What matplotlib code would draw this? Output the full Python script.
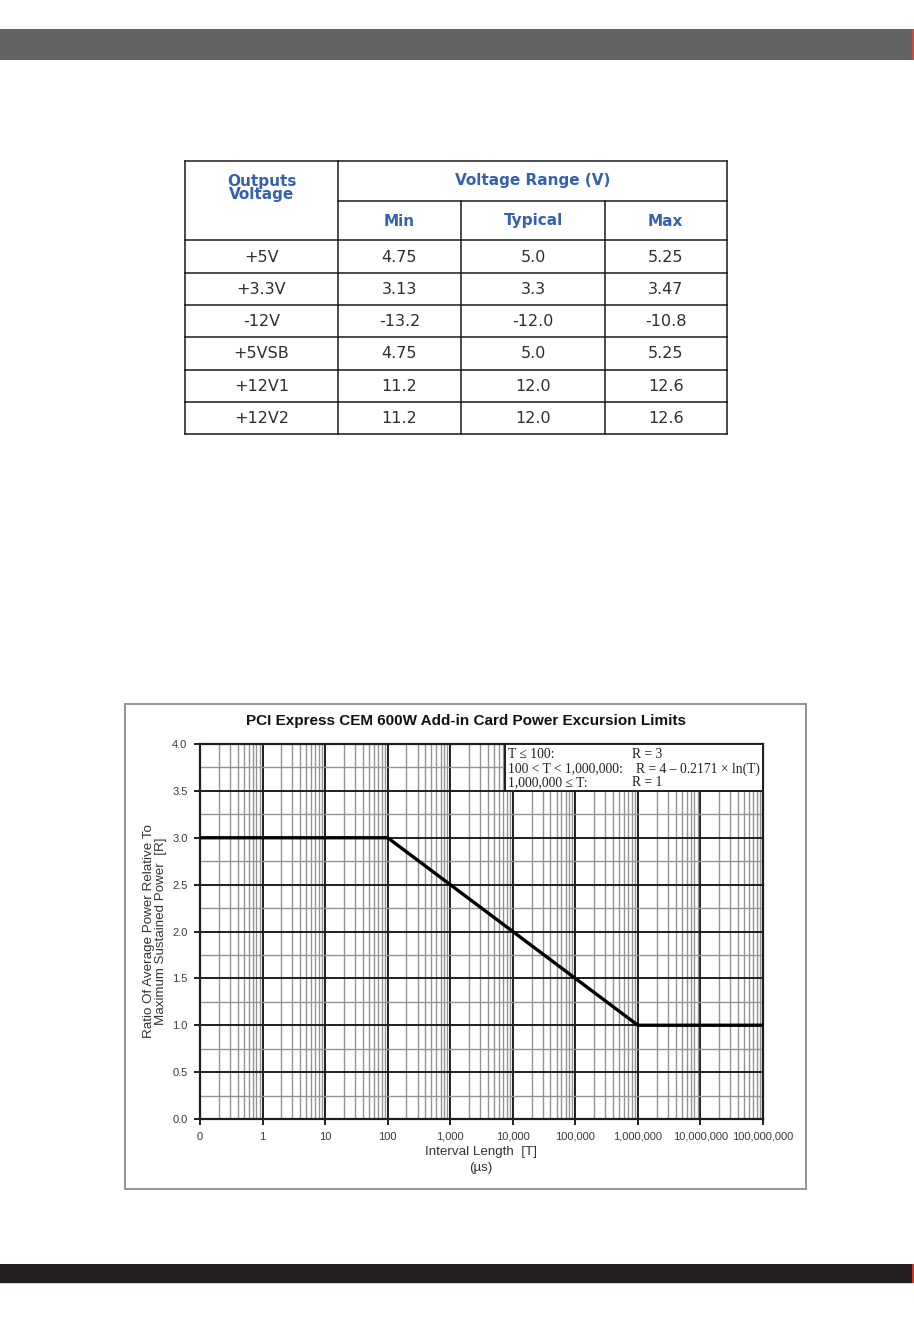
import matplotlib
matplotlib.use("Agg")
import matplotlib.pyplot as plt
from matplotlib.patches import Rectangle
from matplotlib.ticker import FixedLocator, NullFormatter
import numpy as np

# ---------------- data ----------------
table_outputs = ['+5V', '+3.3V', '-12V', '+5VSB', '+12V1', '+12V2']
table_min = ['4.75', '3.13', '-13.2', '4.75', '11.2', '11.2']
table_typ = ['5.0', '3.3', '-12.0', '5.0', '12.0', '12.0']
table_max = ['5.25', '3.47', '-10.8', '5.25', '12.6', '12.6']
table_sub_headers = ['Min', 'Typical', 'Max']

# interval length T (µs); axis start "0" is drawn at the 0.1 decade position
T_points = [0.1, 100, 1_000_000, 100_000_000]
R_points = [3.0, 3.0, 1.0, 1.0]
x_tick_values = [0.1, 1, 10, 100, 1e3, 1e4, 1e5, 1e6, 1e7, 1e8]
x_tick_labels = ['0', '1', '10', '100', '1,000', '10,000', '100,000',
                 '1,000,000', '10,000,000', '100,000,000']
y_tick_values = [0.0, 0.5, 1.0, 1.5, 2.0, 2.5, 3.0, 3.5, 4.0]
y_minor_values = [0.25, 0.75, 1.25, 1.75, 2.25, 2.75, 3.25, 3.75]
legend_left = ['T ≤ 100:', '100 < T < 1,000,000:', '1,000,000 ≤ T:']
legend_right = ['R = 3', 'R = 4 – 0.2171 × ln(T)', 'R = 1']

# ---------------- figure ----------------
W, H = 914, 1324
fig = plt.figure(figsize=(W / 100, H / 100), dpi=100)
fig.patch.set_facecolor('white')

bg = fig.add_axes([0, 0, 1, 1])
bg.set_xlim(0, W)
bg.set_ylim(H, 0)
bg.axis('off')

# header / footer bars
bg.add_patch(Rectangle((0, 29), 912, 31, facecolor='#646262', edgecolor='none'))
bg.add_patch(Rectangle((912, 29), 1.5, 31, facecolor='#c0504d', edgecolor='none'))
bg.add_patch(Rectangle((0, 1264), 912, 19, facecolor='#231f20', edgecolor='none'))
bg.add_patch(Rectangle((912, 1264), 1.5, 19, facecolor='#c0392b', edgecolor='none'))
bg.add_patch(Rectangle((0, 1283), 912, 1.2, facecolor='#d8d8d8', edgecolor='none'))

# ---------------- table ----------------
cols = [185, 338, 461, 605, 726.5]
rows = [161, 201, 240, 273, 305, 337, 370, 402, 434]
lc = '#1a1a1a'
lw = 1.1
bg.plot([cols[0], cols[-1]], [rows[0], rows[0]], color=lc, lw=lw)
bg.plot([cols[1], cols[-1]], [rows[1], rows[1]], color=lc, lw=lw)
for r in rows[2:]:
    bg.plot([cols[0], cols[-1]], [r, r], color=lc, lw=lw)
bg.plot([cols[0], cols[0]], [rows[0], rows[-1]], color=lc, lw=lw)
bg.plot([cols[1], cols[1]], [rows[0], rows[-1]], color=lc, lw=lw)
bg.plot([cols[2], cols[2]], [rows[1], rows[-1]], color=lc, lw=lw)
bg.plot([cols[3], cols[3]], [rows[1], rows[-1]], color=lc, lw=lw)
bg.plot([cols[4], cols[4]], [rows[0], rows[-1]], color=lc, lw=lw)

blue = '#3561b0'
hfont = dict(family='DejaVu Sans', fontweight='bold', fontsize=11, color=blue,
             ha='center', va='center')
bg.text((cols[0] + cols[1]) / 2, 188, 'Outputs\nVoltage', linespacing=0.9, **hfont)
bg.text((cols[1] + cols[4]) / 2, 181, 'Voltage Range (V)', **hfont)
for i, h in enumerate(table_sub_headers):
    bg.text((cols[i + 1] + cols[i + 2]) / 2, 221, h, **hfont)

bfont = dict(family='DejaVu Sans', fontsize=11.5, color='#2e2e2e', ha='center', va='center')
for j in range(len(table_outputs)):
    yc = (rows[j + 2] + rows[j + 3]) / 2 + 0.5
    for i, col in enumerate([table_outputs, table_min, table_typ, table_max]):
        bg.text((cols[i] + cols[i + 1]) / 2, yc, col[j], **bfont)

# ---------------- chart frame ----------------
bg.add_patch(Rectangle((125, 704), 681, 485, facecolor='white', edgecolor='#8a8a8a', lw=1.3))
sans = 'Liberation Sans'
bg.text(466, 721, 'PCI Express CEM 600W Add-in Card Power Excursion Limits',
        family=sans, fontweight='bold', fontsize=11, color='#111111',
        ha='center', va='center')
bg.text(155, 931, 'Ratio Of Average Power Relative To\nMaximum Sustained Power  [R]',
        family=sans, fontsize=9.6, color='#333333', rotation=90,
        ha='center', va='center', multialignment='center', linespacing=1.0)
bg.text(481, 1152, 'Interval Length  [T]', family=sans, fontsize=9.6, color='#333333',
        ha='center', va='center')
bg.text(481, 1168, '(µs)', family=sans, fontsize=9.6, color='#333333',
        ha='center', va='center')

# ---------------- chart axes ----------------
x0, x1, y0, y1 = 200, 763, 744, 1119
ax = fig.add_axes([x0 / W, 1 - y1 / H, (x1 - x0) / W, (y1 - y0) / H])
ax.set_xscale('log')
ax.set_xlim(0.1, 1e8)
ax.set_ylim(0, 4)

minor_x = [m * 10.0 ** e for e in range(-1, 8) for m in range(2, 10)]
ax.xaxis.set_major_locator(FixedLocator(x_tick_values))
ax.xaxis.set_minor_locator(FixedLocator(minor_x))
ax.xaxis.set_minor_formatter(NullFormatter())
ax.set_xticklabels(x_tick_labels)
ax.set_yticks(y_tick_values)
ax.set_yticks(y_minor_values, minor=True)
ax.set_yticklabels([f'{v:.1f}' for v in y_tick_values])

ax.grid(which='major', color='#1e1e1e', lw=1.4)
ax.grid(which='minor', color='#949494', lw=1.0)
ax.set_axisbelow(True)
ax.tick_params(which='major', length=4, width=1.4, color='#1e1e1e', pad=5,
               labelsize=8, labelcolor='#3a3a3a')
ax.tick_params(which='minor', length=0)
for lab in ax.get_xticklabels() + ax.get_yticklabels():
    lab.set_family(sans)
for s in ax.spines.values():
    s.set_color('#1e1e1e')
    s.set_linewidth(1.6)

ax.plot(T_points, R_points, color='black', lw=2.4, solid_capstyle='butt', zorder=5)

# ---------------- formula box ----------------
fg = fig.add_axes([0, 0, 1, 1])
fg.set_xlim(0, W)
fg.set_ylim(H, 0)
fg.axis('off')
fg.patch.set_alpha(0)
fg.add_patch(Rectangle((505, 744), 258, 47, facecolor='white', edgecolor='#1e1e1e', lw=1.4))
serif = 'Liberation Serif'
for k in range(3):
    yy = 755 + 14 * k
    fg.text(508, yy, legend_left[k], family=serif, fontsize=9.8, color='#222222',
            ha='left', va='center')
    fg.text(632 if k != 1 else 636, yy, legend_right[k], family=serif, fontsize=9.8,
            color='#222222', ha='left', va='center')

fig.savefig('out.png', dpi=100)
